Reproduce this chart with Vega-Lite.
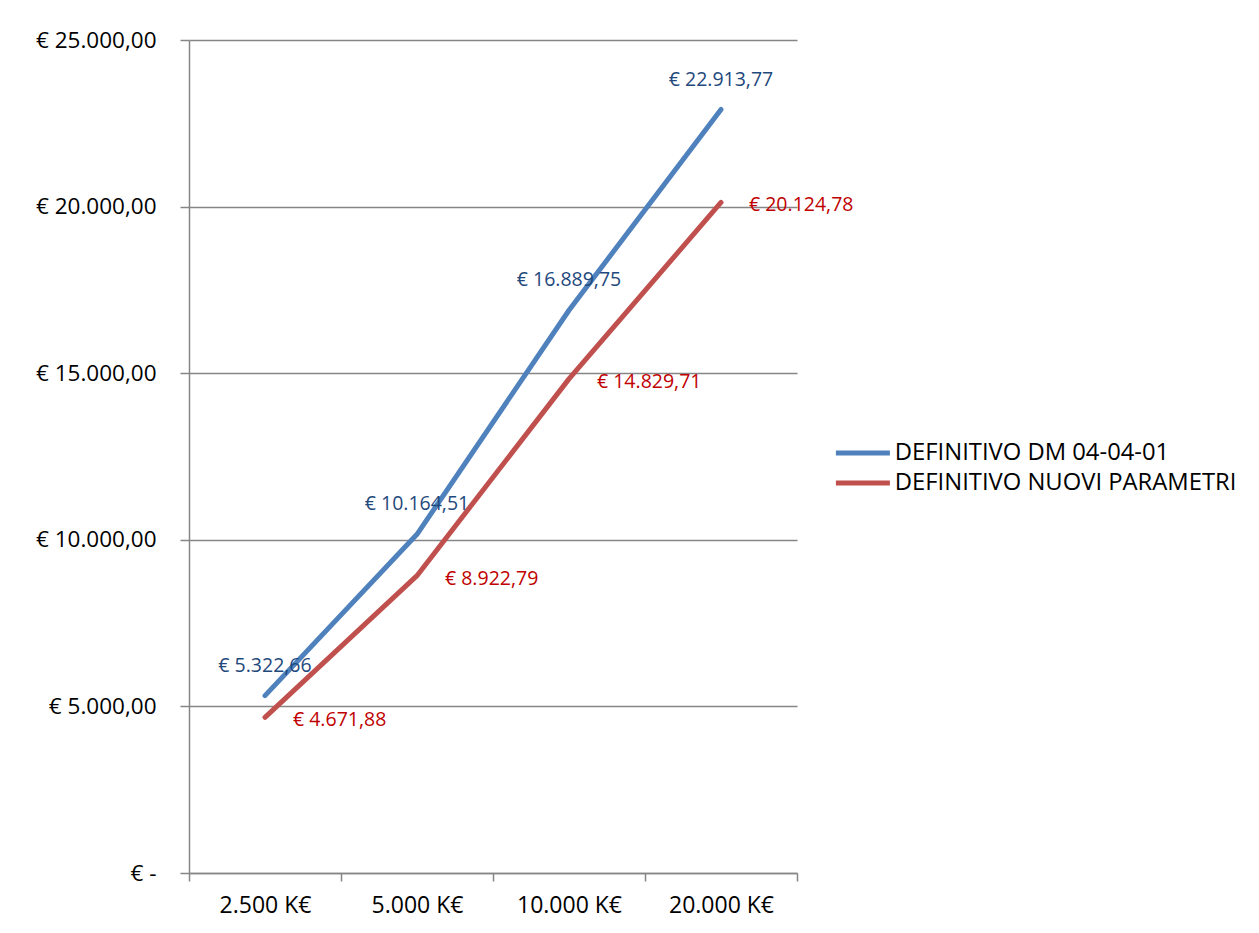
{
  "$schema": "https://vega.github.io/schema/vega-lite/v6.json",
  "width": 608,
  "height": 833,
  "autosize": {"type": "none"},
  "padding": {"left": 189, "top": 40, "right": 462, "bottom": 60},
  "background": "white",
  "config": {
    "font": "Open Sans",
    "view": {"stroke": null},
    "axis": {"labelFont": "Open Sans", "labelColor": "#000000", "domainColor": "#868686", "tickColor": "#868686", "gridColor": "#868686", "domainWidth": 1.5, "tickWidth": 1.5, "gridWidth": 1.5}
  },
  "data": {
    "values": [
      {"cat": "2.500 K€", "order": 1, "series": "DEFINITIVO DM 04-04-01", "value": 5322.66},
      {"cat": "5.000 K€", "order": 2, "series": "DEFINITIVO DM 04-04-01", "value": 10164.51},
      {"cat": "10.000 K€", "order": 3, "series": "DEFINITIVO DM 04-04-01", "value": 16889.75},
      {"cat": "20.000 K€", "order": 4, "series": "DEFINITIVO DM 04-04-01", "value": 22913.77},
      {"cat": "2.500 K€", "order": 1, "series": "DEFINITIVO NUOVI PARAMETRI", "value": 4671.88},
      {"cat": "5.000 K€", "order": 2, "series": "DEFINITIVO NUOVI PARAMETRI", "value": 8922.79},
      {"cat": "10.000 K€", "order": 3, "series": "DEFINITIVO NUOVI PARAMETRI", "value": 14829.71},
      {"cat": "20.000 K€", "order": 4, "series": "DEFINITIVO NUOVI PARAMETRI", "value": 20124.78}
    ]
  },
  "encoding": {
    "x": {
      "field": "cat", "type": "ordinal",
      "sort": ["2.500 K€", "5.000 K€", "10.000 K€", "20.000 K€"],
      "scale": {"paddingInner": 0, "paddingOuter": 0},
      "axis": {"title": null, "labelAngle": 0, "labelFontSize": 23, "labelPadding": 13, "tickBand": "extent", "tickSize": 8, "grid": false, "domain": true}
    },
    "y": {
      "field": "value", "type": "quantitative",
      "scale": {"domain": [0, 25000], "nice": false},
      "axis": {"title": null, "values": [0, 5000, 10000, 15000, 20000, 25000], "grid": true, "tickSize": 9, "labelPadding": 24, "labelFontSize": 22.5,
        "labelExpr": "datum.value === 0 ? '€ -' : '€ ' + replace(replace(replace(format(datum.value, ',.2f'), ',', '_'), '.', ','), '_', '.')"}
    }
  },
  "layer": [
    {
      "mark": {"type": "line", "strokeWidth": 5, "strokeCap": "round", "strokeJoin": "round"},
      "encoding": {
        "color": {
          "field": "series", "type": "nominal",
          "scale": {"domain": ["DEFINITIVO DM 04-04-01", "DEFINITIVO NUOVI PARAMETRI"], "range": ["#4F81BD", "#C0504D"]},
          "legend": {"title": null, "orient": "none", "legendX": 662, "legendY": 401, "symbolType": "M-3,0H3", "symbolSize": 324, "symbolStrokeWidth": 5, "symbolStrokeCap": "round", "labelFontSize": 23.8, "labelColor": "#000000", "labelOffset": 20, "labelLimit": 0, "rowPadding": 5}
        },
        "order": {"field": "order"}
      }
    },
    {
      "mark": {"type": "text", "align": "center", "baseline": "middle", "dy": -30, "fontSize": 19.5, "color": "#1F497D"},
      "encoding": {"text": {"field": "label"}},
      "transform": [
        {"filter": "datum.series === 'DEFINITIVO DM 04-04-01'"},
        {"calculate": "'€ ' + replace(replace(replace(format(datum.value, ',.2f'), ',', '_'), '.', ','), '_', '.')", "as": "label"}
      ]
    },
    {
      "mark": {"type": "text", "align": "left", "baseline": "middle", "dx": 28, "dy": 3, "fontSize": 19.5, "color": "#C00000"},
      "encoding": {"text": {"field": "label"}},
      "transform": [
        {"filter": "datum.series === 'DEFINITIVO NUOVI PARAMETRI'"},
        {"calculate": "'€ ' + replace(replace(replace(format(datum.value, ',.2f'), ',', '_'), '.', ','), '_', '.')", "as": "label"}
      ]
    }
  ]
}
